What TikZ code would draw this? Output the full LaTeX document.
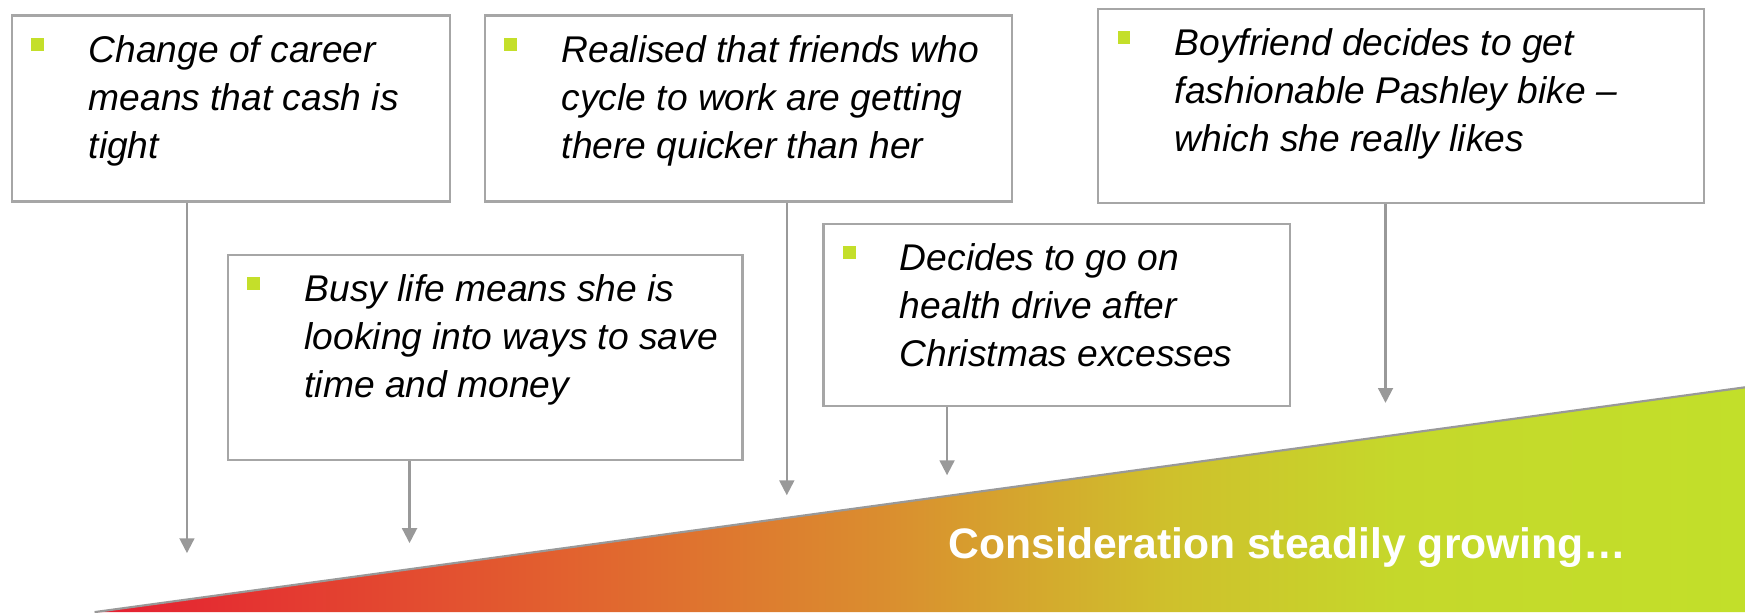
\documentclass[tikz,border=0pt]{standalone}
\usepackage{fontspec}
\setmainfont{Liberation Sans}
\usetikzlibrary{arrows.meta,calc}
\definecolor{boxgray}{HTML}{A6A6A6}
\definecolor{arrgray}{HTML}{999999}
\definecolor{bulgreen}{HTML}{C4DF2A}
\definecolor{c0}{HTML}{E51E32}
\definecolor{c1}{HTML}{E2602F}
\definecolor{c2}{HTML}{DA8E2F}
\definecolor{c3}{HTML}{CFC02C}
\definecolor{c4}{HTML}{C5D82B}
\definecolor{c5}{HTML}{C2DF2A}
\pgfdeclarehorizontalshading{consid}{100bp}{color(0bp)=(c0); color(25bp)=(c0); color(39bp)=(c1); color(49bp)=(c2); color(57.5bp)=(c3); color(64.5bp)=(c4); color(75bp)=(c5); color(100bp)=(c5)}
\tikzset{
  evbox/.style={draw=boxgray, line width=0.55pt, fill=white, anchor=north west, inner sep=0pt, minimum width=#1},
  evtext/.style={anchor=north west, inner sep=0pt, align=left, font=\fontsize{9.5}{12.25}\selectfont\itshape},
  bullet/.style={fill=bulgreen, draw=none, minimum size=3.3pt, inner sep=0pt},
  conn/.style={draw=arrgray, line width=0.55pt, -{Triangle[width=3.8pt,length=3.8pt]}},
  growtext/.style={text=white, font=\fontsize{10.9}{13}\selectfont\bfseries, anchor=base}
}
\begin{document}
\begin{tikzpicture}[x=0.01cm,y=-0.01cm]
\useasboundingbox (0,0) rectangle (1568,550);
% growth wedge
\coordinate (wl) at (85,550);
\coordinate (wr) at (1568,348);
\coordinate (wb) at (1568,550);
\shade[shading=consid] (wl) -- (wr) -- (wb) -- cycle;
\draw[arrgray, line width=0.55pt] (wl) -- (wr);
\node[growtext] (grow) at (1157,502) {Consideration steadily growing…};

% boxes
\node[evbox=393pt, minimum width=393*0.2845pt, minimum height=167*0.2845pt] (b1) at (10,13) {};
\node[evbox=473pt, minimum width=473*0.2845pt, minimum height=167*0.2845pt] (b2) at (435,13) {};
\node[evbox=544pt, minimum width=544*0.2845pt, minimum height=174*0.2845pt] (b3) at (986,7) {};
\node[evbox=462pt, minimum width=462*0.2845pt, minimum height=184*0.2845pt] (b4) at (204,228) {};
\node[evbox=419pt, minimum width=419*0.2845pt, minimum height=164*0.2845pt] (b5) at (739,200) {};

% bullets and texts
\foreach \b/\t in {
  b1/{Change of career\\means that cash is\\tight},
  b2/{Realised that friends who\\cycle to work are getting\\there quicker than her},
  b3/{Boyfriend decides to get\\fashionable Pashley bike –\\which she really likes},
  b4/{Busy life means she is\\looking into ways to save\\time and money},
  b5/{Decides to go on\\health drive after\\Christmas excesses}}{
  \node[bullet] (\b bul) at ($(\b.north west)+(24,27)$) {};
  \node[evtext] (\b txt) at ($(\b.north west)+(69,12)$) {\strut\t};
}

% connectors
\coordinate (t1) at (168,497);
\coordinate (t2) at (707,445);
\coordinate (t3) at (1245,362);
\coordinate (t4) at (368,488);
\coordinate (t5) at (851,427);
\draw[conn] (b1.south -| t1) -- (t1);
\draw[conn] (b2.south -| t2) -- (t2);
\draw[conn] (b3.south -| t3) -- (t3);
\draw[conn] (b4.south -| t4) -- (t4);
\draw[conn] (b5.south -| t5) -- (t5);
\end{tikzpicture}
\end{document}
